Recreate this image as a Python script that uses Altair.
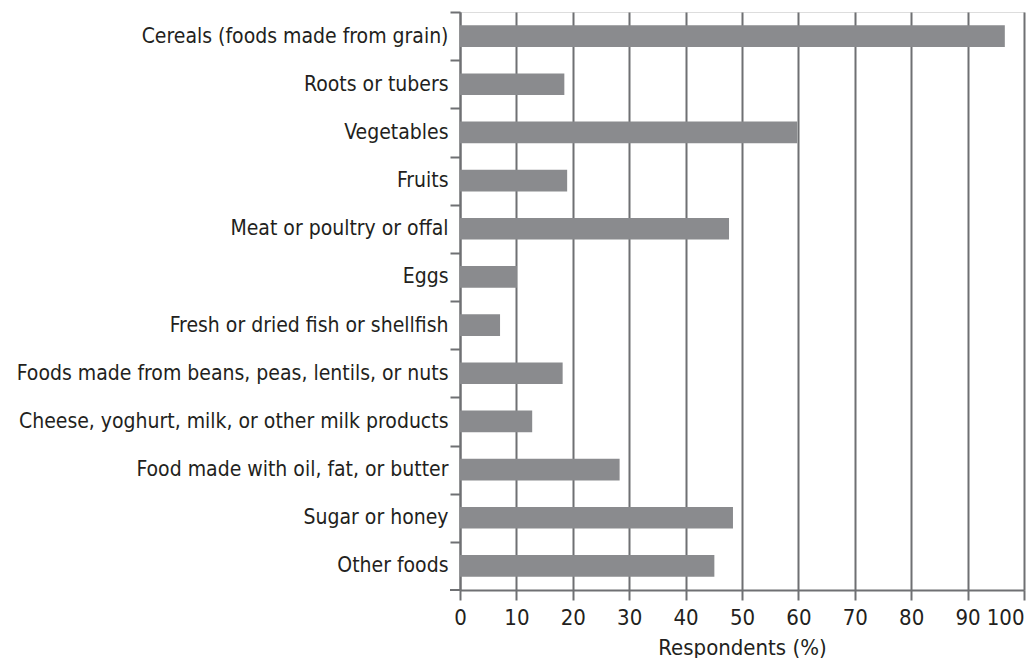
import altair as alt
import pandas as pd

categories = [
    "Cereals (foods made from grain)",
    "Roots or tubers",
    "Vegetables",
    "Fruits",
    "Meat or poultry or offal",
    "Eggs",
    "Fresh or dried fish or shellfish",
    "Foods made from beans, peas, lentils, or nuts",
    "Cheese, yoghurt, milk, or other milk products",
    "Food made with oil, fat, or butter",
    "Sugar or honey",
    "Other foods",
]
values = [96.6, 18.5, 59.8, 19.0, 47.7, 10.1, 7.1, 18.2, 12.8, 28.3, 48.4, 45.1]
x_ticks = [0, 10, 20, 30, 40, 50, 60, 70, 80, 90, 100]

df = pd.DataFrame({"food": categories, "pct": values})

W = 564
H = 578
STEP = H / len(categories)
FONT = "DejaVu Sans Condensed"
AX = "#6f7073"
TXT = "#231f20"

bars = alt.Chart(df).mark_bar(color="#8a8b8e", size=21.7).encode(
    x=alt.X(
        "pct:Q",
        scale=alt.Scale(domain=[0, 100], nice=False),
        axis=alt.Axis(
            values=x_ticks,
            title="Respondents (%)",
            grid=True,
            gridColor=AX,
            gridWidth=2,
            gridOpacity=1,
            domainColor=AX,
            domainWidth=2,
            tickColor=AX,
            tickWidth=2,
            tickSize=10,
            labelFlush=False,
            labelAlign=alt.condition("datum.value == 100", alt.value("right"), alt.value("center")),
            labelFont=FONT,
            labelFontSize=22,
            labelColor=TXT,
            labelPadding=7,
            titleFont=FONT,
            titleFontSize=22,
            titleFontWeight="normal",
            titleColor=TXT,
            titlePadding=9,
        ),
    ),
    y=alt.Y(
        "food:N",
        sort=categories,
        scale=alt.Scale(paddingInner=0, paddingOuter=0),
        axis=alt.Axis(
            title=None,
            domainColor=AX,
            domainWidth=2,
            tickColor=AX,
            tickWidth=2,
            tickSize=10,
            tickOffset=-STEP / 2,
            labelOffset=STEP / 2,
            labelFont=FONT,
            labelFontSize=21,
            labelColor=TXT,
            labelPadding=2,
            labelLimit=600,
        ),
    ),
)

bottom_tick = alt.Chart(df).mark_rule(color=AX, strokeWidth=2).encode(
    x=alt.value(-10), x2=alt.value(0), y=alt.value(H)
)

chart = alt.layer(bars, bottom_tick).properties(
    width=W,
    height=H,
    autosize=alt.AutoSizeParams(type="none"),
    padding={"left": 452, "top": 4, "right": 4, "bottom": 68},
).configure_view(stroke=None).configure(background="white")

chart.save("out.html", embed_options={"renderer": "svg", "actions": False})
